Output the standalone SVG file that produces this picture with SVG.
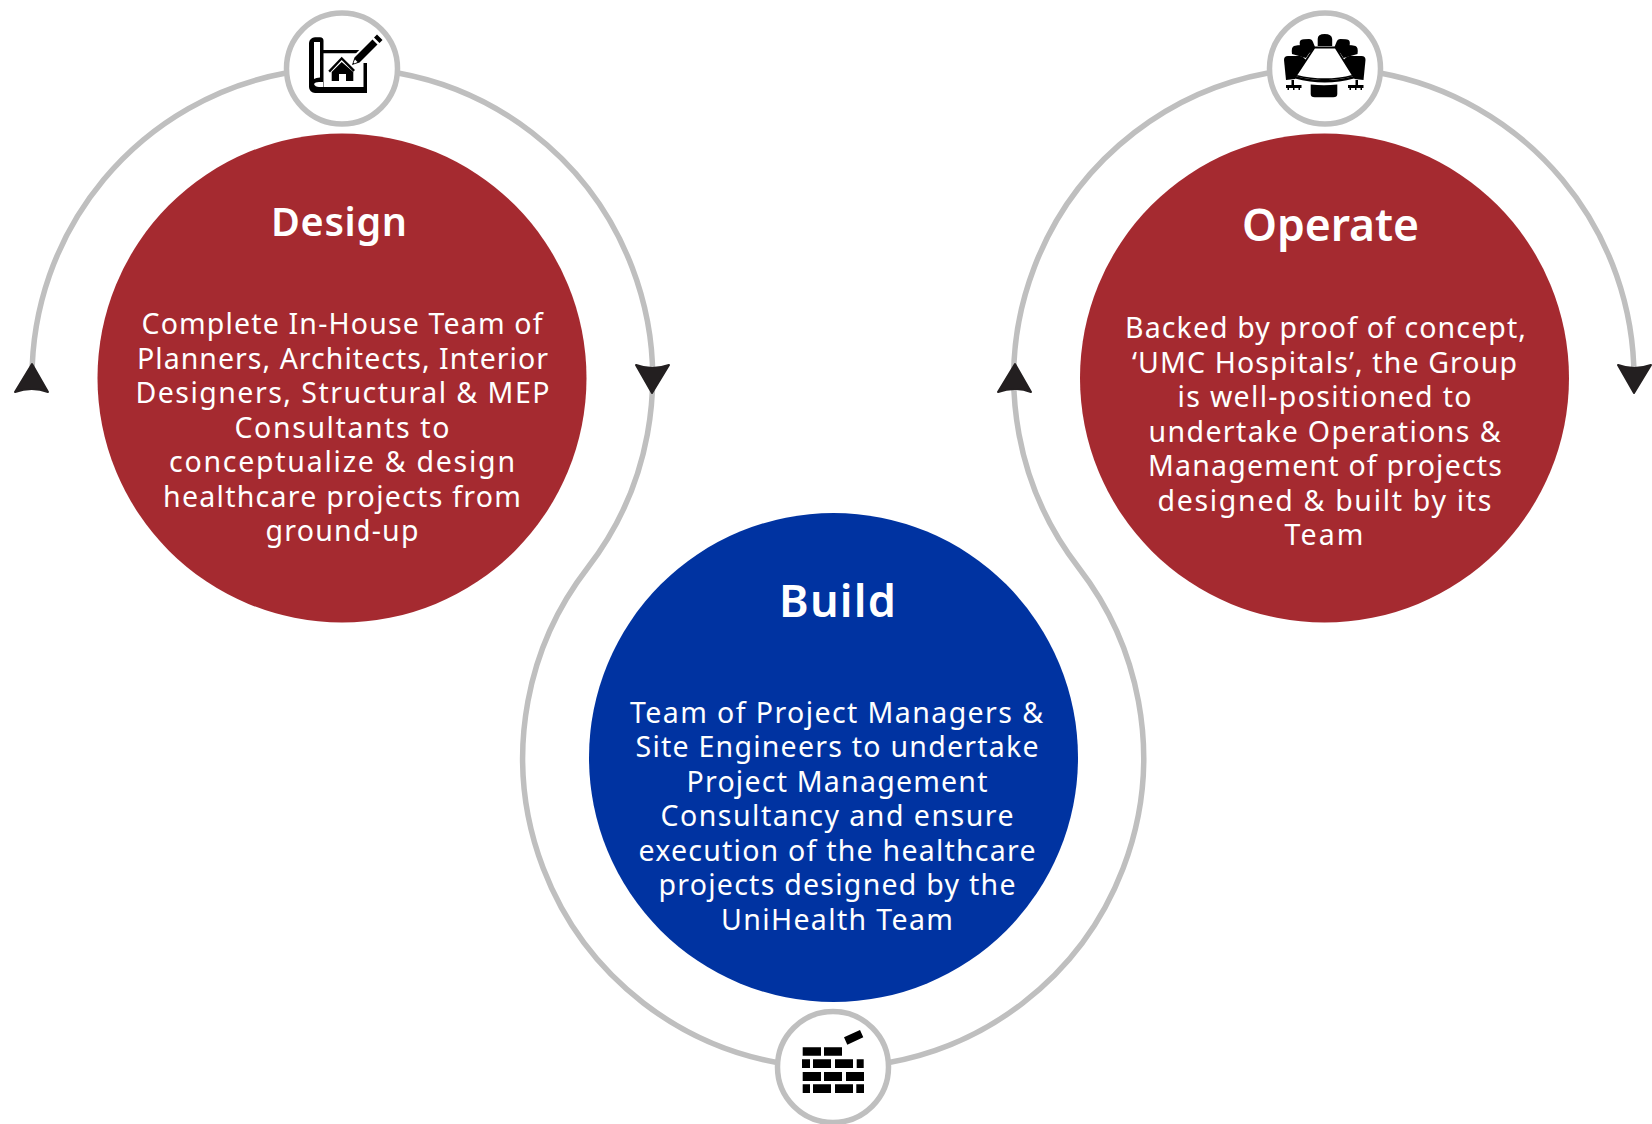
<svg xmlns="http://www.w3.org/2000/svg" width="1652" height="1124" viewBox="0 0 1652 1124">
<style>
.arc{fill:none;stroke:#bfbfbf;stroke-width:5.500}
.ring{fill:#fff;stroke:#bfbfbf;stroke-width:5.500}
.arrow{fill:#231f20;stroke:#231f20;stroke-width:2;stroke-linejoin:round}
text{font-family:"Noto Sans","Open Sans","Liberation Sans",sans-serif;fill:#fff;text-anchor:middle}
.t{font-weight:600}
.b{font-size:28.500px}
.i{fill:#000}
</style>
<defs>
<g id="chairs">
<path class="i" d="M1300 46q-1-5 1-6q2-1 8-1q3 0 4 3l2 5l-5 6z"/>
<path class="i" d="M1292 54q-1-7 2-8q3-1 9-1q2 0 4 3l3 4l-4 6z"/>
<path class="i" d="M1286 80l-2-20q0-4 4-4h12q2 0 3.500 1.500l2.500 2.500l-11 19z"/>
<path class="i" d="M1291.500 80h2.500v5h7.500v3h-1.500v2h-1.500v-2h-4v2h-1.500v-2h-4v2h-1.500v-2h-1.500v-3h5.500z"/>
</g>
</defs>
<rect width="1652" height="1124" fill="#fff"/>
<g id="connectors">
<path class="arc" d="M286 73A310 310 0 0 0 32 378"/>
<path class="arc" d="M398 73A310 310 0 0 1 587.700 567.700A310 310 0 0 0 777 1062.500"/>
<path class="arc" d="M889 1062.500A310 310 0 0 0 1078.700 567.700A310 310 0 0 1 1268 73"/>
<path class="arc" d="M1380 73A310 310 0 0 1 1634 378"/>
<path class="arrow" d="M32 364L48 392Q32 386 15 392Z"/>
<path class="arrow" d="M652 393L636 365Q652 371 669 365Z"/>
<path class="arrow" d="M1015 364L1031 392Q1015 386 998 392Z"/>
<path class="arrow" d="M1634 393L1618 365Q1634 371 1651 365Z"/>
</g>
<g id="design">
<circle cx="342" cy="378" r="244.500" fill="#a52a30"/>
<text class="t" x="339" y="235.500" font-size="39.500" textLength="136" lengthAdjust="spacing">Design</text>
<g class="b">
<text x="342" y="334" textLength="401">Complete In-House Team of</text>
<text x="342.500" y="368.700" textLength="411">Planners, Architects, Interior</text>
<text x="342.500" y="403.200" textLength="414">Designers, Structural &amp; MEP</text>
<text x="342" y="437.700" textLength="215">Consultants to</text>
<text x="342" y="472" textLength="346">conceptualize &amp; design</text>
<text x="342" y="506.700" textLength="358">healthcare projects from</text>
<text x="342" y="541.200" textLength="153">ground-up</text>
</g>
</g>
<g id="build">
<circle cx="833.500" cy="757.500" r="244.500" fill="#0033a1"/>
<text class="t" x="837.500" y="616.500" font-size="45" textLength="117" lengthAdjust="spacing">Build</text>
<g class="b">
<text x="836.500" y="722.700" textLength="413">Team of Project Managers &amp;</text>
<text x="837" y="757.200" textLength="403">Site Engineers to undertake</text>
<text x="837" y="791.700" textLength="301">Project Management</text>
<text x="837" y="826.200" textLength="353">Consultancy and ensure</text>
<text x="837" y="860.700" textLength="397">execution of the healthcare</text>
<text x="837" y="895.200" textLength="357">projects designed by the</text>
<text x="837" y="929.700" textLength="232">UniHealth Team</text>
</g>
</g>
<g id="operate">
<circle cx="1324.500" cy="378" r="244.500" fill="#a52a30"/>
<text class="t" x="1330.500" y="240.500" font-size="44.500" textLength="177" lengthAdjust="spacing">Operate</text>
<g class="b">
<text x="1325.500" y="338.200" textLength="401">Backed by proof of concept,</text>
<text x="1324.500" y="372.700" textLength="385">‘UMC Hospitals’, the Group</text>
<text x="1324.500" y="407.200" textLength="294">is well-positioned to</text>
<text x="1324.500" y="441.700" textLength="352">undertake Operations &amp;</text>
<text x="1325" y="476.200" textLength="354">Management of projects</text>
<text x="1324.500" y="510.700" textLength="334">designed &amp; built by its</text>
<text x="1324" y="545.200" textLength="79">Team</text>
</g>
</g>
<g id="icon-design">
<circle class="ring" cx="342" cy="68.500" r="55.500"/>
<path class="i" fill-rule="evenodd" d="M315 37.300h5a3.500 3.500 0 0 1 3.500 3.500V50H367V53.200H323.500V87H363.500V63H367V93H315a6 6 0 0 1-6-6V43a6 6 0 0 1 6-5.700zM314 42V79q2-1.500 6-1.500V42z"/>
<path d="M314 84q1-2 5-2h4v5h-4q-4 0-5-3z" fill="#fff"/>
<path d="M352 65l3-8 18-18 5.500 5.500-18 18z" fill="#fff" stroke="#fff" stroke-width="4"/>
<path class="i" d="M352 65l2.500-7.500 18-18 5 5-18 18zM374 37.500l3-3 5.500 5.500-3 3z"/>
<path d="M353.500 62.500l1.500-3 2.500 2.500-3 1.500z" fill="#fff"/>
<path class="i" d="M328.300 70.700L341.700 56.700L355 70L353.300 71.700L341.700 60L330 72.400z"/>
<path class="i" d="M331.700 72L341.700 62L353.300 72V81H346V74H339V81H331.700z"/>
</g>
<g id="icon-operate">
<circle class="ring" cx="1325" cy="68.500" r="55.500"/>
<use href="#chairs"/>
<use href="#chairs" transform="matrix(-1 0 0 1 2649.500 0)"/>
<path class="i" d="M1317.700 46v-7q0-5 7-5t7.500 5v7z"/>
<path d="M1314.500 47.500H1335.500L1353 75.500Q1325 83 1296 75.500Z" fill="#fff" stroke="#000" stroke-width="1.800" stroke-linejoin="round"/>
<path class="i" d="M1295 76Q1325 84 1354 76L1354 78.500Q1325 86.500 1295 78.500Z"/>
<path class="i" d="M1310.700 84.500Q1324 86 1337.300 84.500V94q0 3.300-4 3.300H1314.700q-4 0-4-3.300z"/>
</g>
<g id="icon-build">
<circle class="ring" cx="833" cy="1067" r="55.500"/>
<path class="i" d="M844 1037.300L860 1030L863.300 1037.300L847.300 1044.700zM802.700 1047.300h18.300v8.500h-18.300zM824 1047.300h18v8.500h-18zM802 1059.300h8v8.700h-8zM813 1059.300h18v8.700h-18zM835 1059.300h18v8.700h-18zM856.700 1059.300h7v8.700h-7zM802.700 1072h18.300v9h-18.300zM824 1072h18v9h-18zM846 1072h18v9h-18zM802.700 1084.300h7.300v8.700h-7.300zM813 1084.300h18v8.700h-18zM835 1084.300h18v8.700h-18zM856.300 1084.300h7.700v8.700h-7.700z"/>
</g>
</svg>
